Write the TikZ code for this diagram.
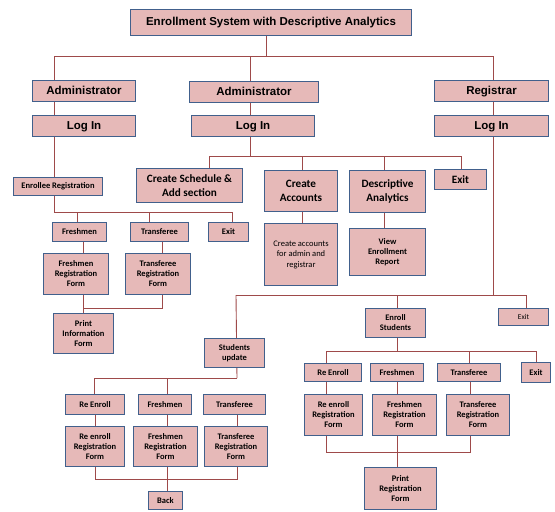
\documentclass[tikz,border=0pt]{standalone}
\usepackage{fontspec}
\setmainfont{Carlito}
\newfontfamily\arialfont{Liberation Sans}
\usepackage{tikz}
\usetikzlibrary{backgrounds}
\definecolor{boxpink}{HTML}{E6B9B8}
\definecolor{boxblue}{HTML}{41608C}
\definecolor{linkred}{HTML}{9E4A4A}

\begin{document}
\begin{tikzpicture}[x=1pt,y=-1pt,
	box/.style={draw=boxblue, fill=boxpink, line width=1.4pt, inner sep=1pt, align=center},
	wh/.style 2 args={minimum width=#1pt-1.4pt, minimum height=#2pt-1.4pt},
	top/.style={box, text height=8.5pt, text depth=2.2pt, font=\arialfont\bfseries\fontsize{11.5}{13}\selectfont},
	mid/.style={box, font=\bfseries\fontsize{11.2}{14.5}\selectfont},
	sml/.style={box, font=\bfseries\fontsize{8.5}{10}\selectfont},
	plain/.style={box, font=\fontsize{8.5}{10.5}\selectfont},
	link/.style={draw=linkred, line width=0.9pt}]
		%%%%% START %%%%%
		\useasboundingbox (0,0) rectangle (555,512);
		
		% top levels
		\node[top, wh={282}{27}] (title) at (271,22.5) {Enrollment System with Descriptive Analytics};
		\node[top, wh={104}{22}] (adminA) at (84,91) {Administrator};
		\node[top, wh={130}{22}] (adminB) at (254,92) {Administrator};
		\node[top, wh={115}{22}] (reg) at (491.5,91) {Registrar};
		\node[top, wh={104}{22}] (loginA) at (84,126) {Log In};
		\node[top, wh={124}{22}] (loginB) at (253,126) {Log In};
		\node[top, wh={115}{22}] (loginC) at (491.5,126) {Log In};
		
		% administrator (left)
		\node[sml, wh={90}{19}] (enrollee) at (58,186.5) {Enrollee Registration};
		\node[sml, wh={55}{20}] (freshA) at (79.5,232) {Freshmen};
		\node[sml, wh={59}{20}] (transA) at (159.5,232) {Transferee};
		\node[sml, wh={41}{20}] (exitA) at (228.5,232) {Exit};
		\node[sml, wh={66}{42}] (freshFormA) at (76,274) {Freshmen\\Registration\\Form};
		\node[sml, wh={66}{42}] (transFormA) at (158,274) {Transferee\\Registration\\Form};
		\node[sml, wh={61}{41}] (printA) at (83.5,333.5) {Print\\Information\\Form};
		
		% administrator (middle)
		\node[mid, wh={107}{35}] (sched) at (189.5,185.5) {Create Schedule \&\\Add section};
		\node[mid, wh={74}{42}] (accts) at (301,191) {Create\\Accounts};
		\node[mid, wh={77}{43}] (analyt) at (387.5,191.5) {Descriptive\\Analytics};
		\node[mid, wh={53}{21}] (exitB) at (460.5,179.5) {Exit};
		\node[plain, wh={74}{63}] (acctsFor) at (301,254.5) {Create accounts\\for admin and\\registrar};
		\node[sml, wh={77}{48}] (report) at (387.5,252) {View\\Enrollment\\Report};
		
		% registrar
		\node[sml, wh={61}{30}] (updt) at (234.5,353) {Students\\update};
		\node[sml, wh={61}{30}] (enroll) at (395.5,323) {Enroll\\Students};
		\node[plain, font=\fontsize{7.5}{9}\selectfont, wh={51}{18}] (exitC) at (523.5,317) {Exit};
		
		\node[sml, wh={58}{19}] (reR) at (333,372.5) {Re Enroll};
		\node[sml, wh={54}{19}] (freshR) at (397,372.5) {Freshmen};
		\node[sml, wh={64}{19}] (transR) at (469,372.5) {Transferee};
		\node[sml, wh={30}{21}] (exitD) at (536,372.5) {Exit};
		\node[sml, wh={59}{42}] (reFormR) at (333.5,415) {Re enroll\\Registration\\Form};
		\node[sml, wh={65}{42}] (freshFormR) at (404.5,415) {Freshmen\\Registration\\Form};
		\node[sml, wh={64}{42}] (transFormR) at (478,415) {Transferee\\Registration\\Form};
		\node[sml, wh={73}{43}] (printR) at (400.5,488.5) {Print\\Registration\\Form};
		
		\node[sml, wh={60}{21}] (reL) at (95,404.5) {Re Enroll};
		\node[sml, wh={54}{21}] (freshL) at (165,404.5) {Freshmen};
		\node[sml, wh={63}{21}] (transL) at (234.5,404.5) {Transferee};
		\node[sml, wh={60}{41}] (reFormL) at (95,446.5) {Re enroll\\Registration\\Form};
		\node[sml, wh={65}{41}] (freshFormL) at (165.5,446.5) {Freshmen\\Registration\\Form};
		\node[sml, wh={64}{41}] (transFormL) at (236,446.5) {Transferee\\Registration\\Form};
		\node[sml, wh={35}{19}] (back) at (165.5,500.5) {Back};
		
		% bus points
		\coordinate (t0) at (266,56);
		\coordinate (tA) at (54,56);
		\coordinate (tB) at (250,56);
		\coordinate (tC) at (493,56);
		\coordinate (l1) at (209,156);
		\coordinate (l2) at (302,156);
		\coordinate (l3) at (384,156);
		\coordinate (l4) at (461,156);
		\coordinate (e1) at (54,212);
		\coordinate (e2) at (77,212);
		\coordinate (e3) at (149,212);
		\coordinate (e4) at (232,212);
		\coordinate (f1) at (83,308);
		\coordinate (f2) at (162,308);
		\coordinate (r0) at (236,295);
		\coordinate (r1) at (493,295);
		\coordinate (r2) at (397,295);
		\coordinate (r3) at (526,295);
		\coordinate (s1) at (326,351);
		\coordinate (s2) at (397,351);
		\coordinate (s3) at (469,351);
		\coordinate (s4) at (536,351);
		\coordinate (p1) at (326,452);
		\coordinate (p2) at (397,452);
		\coordinate (p3) at (470,452);
		\coordinate (u1) at (94,378);
		\coordinate (u2) at (167,378);
		\coordinate (u3) at (237,378);
		\coordinate (q1) at (95,479);
		\coordinate (q2) at (167,479);
		\coordinate (q3) at (237,479);
		
		\begin{pgfonlayer}{background}
		\draw[link] (t0 |- title.south) -- (t0);
		\draw[link] (tA) -- (tC);
		\draw[link] (tA) -- (e1);
		\draw[link] (tB) -- (tB |- l1);
		\draw[link] (tC) -- (r1);
		
		\draw[link] (l1) -- (l4);
		\draw[link] (l1) -- (l1 |- sched.north);
		\draw[link] (l2) -- (l2 |- acctsFor.north);
		\draw[link] (l3) -- (l3 |- report.north);
		\draw[link] (l4) -- (l4 |- exitB.north);
		
		\draw[link] (e1) -- (e4);
		\draw[link] (e2) -- (e2 |- freshA.north);
		\draw[link] (e3) -- (e3 |- transA.north);
		\draw[link] (e4) -- (e4 |- exitA.north);
		\draw[link] (f1 |- freshA.south) -- (f1) -- (f2) -- (f2 |- transA.south);
		\draw[link] (f1) -- (f1 |- printA.north);
		
		\draw[link] (r0) -- (r3);
		\draw[link] (r0) -- (u3);
		\draw[link] (r2) -- (s2);
		\draw[link] (r3) -- (r3 |- exitC.north);
		
		\draw[link] (s1) -- (s4);
		\draw[link] (s1) -- (s1 |- reR.north);
		\draw[link] (s3) -- (s3 |- transR.north);
		\draw[link] (s4) -- (s4 |- exitD.north);
		\draw[link] (p1 |- reR.south) -- (p1) -- (p3) -- (p3 |- transR.south);
		\draw[link] (p2 |- freshR.south) -- (p2 |- printR.north);
		
		\draw[link] (u1) -- (u3);
		\draw[link] (u1) -- (u1 |- reL.north);
		\draw[link] (u2) -- (u2 |- freshL.north);
		\draw[link] (q1 |- reL.south) -- (q1) -- (q3) -- (q3 |- transL.south);
		\draw[link] (q2 |- freshL.south) -- (q2 |- back.north);
		\end{pgfonlayer}
		%%%%% END %%%%%
\end{tikzpicture}
\end{document}
